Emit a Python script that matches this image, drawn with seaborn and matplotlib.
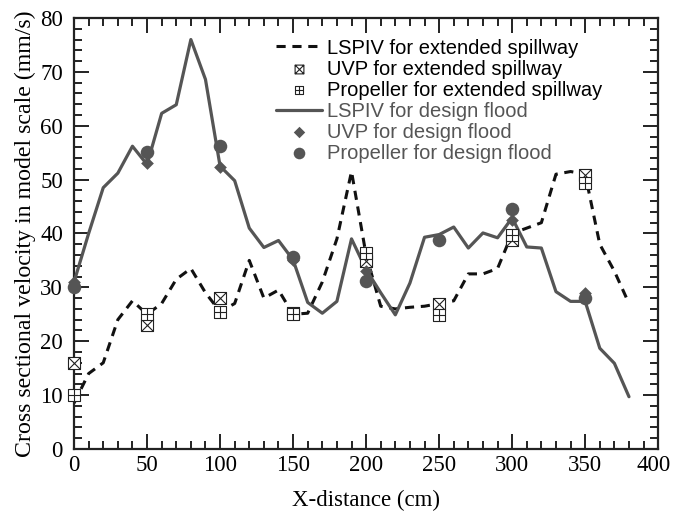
import numpy as np
import pandas as pd
import matplotlib
matplotlib.use("Agg")
import matplotlib.pyplot as plt
import matplotlib.transforms as mtransforms
from matplotlib.path import Path
from matplotlib.ticker import MultipleLocator
import seaborn as sns

# ---------------- data ----------------
x_line = [0, 10, 20, 30, 40, 50, 60, 70, 80, 90, 100, 110, 120, 130, 140, 150, 160, 170, 180, 190,
          200, 210, 220, 230, 240, 250, 260, 270, 280, 290, 300, 310, 320, 330, 340, 350, 360, 370, 380]
lspiv_ext = [8.5, 14, 16, 24, 27.5, 25, 27, 31.5, 33.5, 29, 25.5, 27, 35, 28, 29.5, 25, 25.2, 31, 39, 51.5,
             36, 26.5, 26, 26.3, 26.5, 27, 27.5, 32.5, 32.5, 33.5, 40, 41, 42, 51, 51.5, 51, 38, 33, 27]
lspiv_design = [31, 40, 48.5, 51.2, 56.2, 52.8, 62.3, 63.9, 76.0, 68.6, 52.5, 49.8, 41.0, 37.4, 38.7, 35.1,
                27.2, 25.2, 27.4, 39.0, 33.3, 29.0, 24.9, 30.8, 39.3, 39.8, 41.2, 37.3, 40.1, 39.2, 42.9,
                37.5, 37.3, 29.2, 27.4, 27.4, 18.7, 15.9, 9.7]

x_pts = [0, 50, 100, 150, 200, 250, 300, 350]
uvp_ext = [15.9, 23.0, 28.0, 25.3, 34.8, 27.0, 38.8, 50.9]
prop_ext = [10.0, 25.0, 25.5, 25.1, 36.4, 24.8, 39.8, 49.4]
uvp_design = [31.0, 53.0, 52.3, 35.0, 33.0, 39.0, 42.5, 29.0]
prop_design = [30.0, 55.1, 56.3, 35.7, 31.2, 38.8, 44.5, 28.0]

labels = ["LSPIV for extended spillway", "UVP for extended spillway", "Propeller for extended spillway",
          "LSPIV for design flood", "UVP for design flood", "Propeller for design flood"]

df_line = pd.DataFrame({"x": x_line, "ext": lspiv_ext, "design": lspiv_design})
df_pts = pd.DataFrame({"x": x_pts, "uvp_ext": uvp_ext, "prop_ext": prop_ext,
                       "uvp_design": uvp_design, "prop_design": prop_design})

# ---------------- markers ----------------
M, L, C = Path.MOVETO, Path.LINETO, Path.CLOSEPOLY
box_x = Path([(-1, -1), (1, -1), (1, 1), (-1, 1), (-1, -1), (-1, -1), (1, 1), (-1, 1), (1, -1)],
             [M, L, L, L, C, M, L, M, L])
box_p = Path([(-1, -1), (1, -1), (1, 1), (-1, 1), (-1, -1), (0, -1), (0, 1), (-1, 0), (1, 0)],
             [M, L, L, L, C, M, L, M, L])

# ---------------- figure ----------------
sns.set_theme(style="white")
plt.rcParams["font.family"] = ["Liberation Serif", "DejaVu Serif"]

fig = plt.figure(figsize=(6.73, 5.14), dpi=100)
ax = fig.add_axes([0.110, 0.1265, 0.868, 0.8385])

grey = "#555555"

sns.lineplot(data=df_line, x="x", y="ext", ax=ax, color="#111111", linewidth=2.2,
             linestyle=(0, (3.0, 2.2)), label=labels[0], zorder=2)
sns.scatterplot(data=df_pts, x="x", y="uvp_ext", ax=ax, marker=box_x, s=75, facecolor="white",
                edgecolor="#222222", linewidth=0.8, label=labels[1], zorder=4, clip_on=False)
sns.scatterplot(data=df_pts, x="x", y="prop_ext", ax=ax, marker=box_p, s=75, facecolor="white",
                edgecolor="#222222", linewidth=0.8, label=labels[2], zorder=4, clip_on=False)
sns.lineplot(data=df_line, x="x", y="design", ax=ax, color=grey, linewidth=2.3,
             label=labels[3], zorder=3)
sns.scatterplot(data=df_pts, x="x", y="uvp_design", ax=ax, marker="D", s=42, color=grey,
                edgecolor=grey, linewidth=0, label=labels[4], zorder=5, clip_on=False)
sns.scatterplot(data=df_pts, x="x", y="prop_design", ax=ax, marker="o", s=95, color=grey,
                edgecolor=grey, linewidth=0, label=labels[5], zorder=5, clip_on=False)

ax.set_xlim(0, 400)
ax.set_ylim(0, 80)
ax.xaxis.set_major_locator(MultipleLocator(50))
ax.xaxis.set_minor_locator(MultipleLocator(10))
ax.yaxis.set_major_locator(MultipleLocator(10))
ax.yaxis.set_minor_locator(MultipleLocator(2))
ax.tick_params(which="both", direction="in", top=True, right=True, bottom=True, left=True,
               width=1.4, color="#222222", labelsize=16.5, labelcolor="black")
ax.tick_params(axis="x", which="major", pad=4)
ax.tick_params(axis="y", which="major", pad=8)
ax.tick_params(which="major", length=11)
ax.tick_params(which="minor", length=5.5)
for s in ax.spines.values():
    s.set_linewidth(1.6)
    s.set_color("#222222")

ax.set_xlabel("X-distance (cm)", fontsize=16.5, labelpad=10, color="black")
ax.set_ylabel("Cross sectional velocity in model scale (mm/s)", fontsize=17.2, labelpad=3, color="black")

fig.canvas.draw()
shift = mtransforms.ScaledTranslation(-5 / 100, 0, fig.dpi_scale_trans)
for tk in ax.xaxis.get_major_ticks():
    if abs(tk.get_loc() - 400) < 1e-6:
        tk.label1.set_transform(tk.label1.get_transform() + shift)

leg = ax.legend(loc="upper left", bbox_to_anchor=(0.332, 0.971), frameon=False,
                prop={"family": ["Liberation Sans", "DejaVu Sans"], "size": 14.5},
                handlelength=2.3, handletextpad=0.25, labelspacing=0.1, borderaxespad=0)
for i, t in enumerate(leg.get_texts()):
    t.set_color("black" if i < 3 else grey)
hs = leg.legend_handles
hs[1].set_sizes([40])
hs[2].set_sizes([40])
hs[4].set_sizes([34])
hs[5].set_sizes([70])

fig.savefig("out.png", dpi=100)
